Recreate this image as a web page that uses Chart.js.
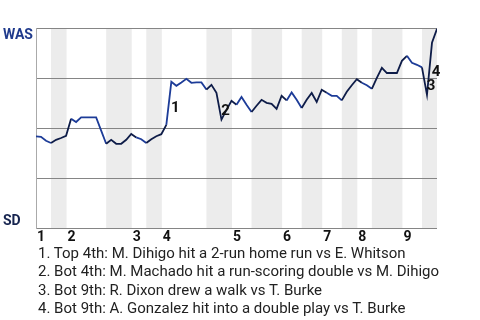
<!DOCTYPE html>
<html>
<head>
<meta charset="utf-8">
<script src="https://cdn.jsdelivr.net/npm/chart.js@4.4.0/dist/chart.umd.min.js"></script>
<style>
  html, body { margin: 0; padding: 0; background: #fff; }
  #wrap { position: relative; width: 480px; height: 320px; }
  #notes {
    position: absolute; left: 38px; top: 244px;
    font: 15px Roboto, sans-serif; line-height: 18.3px; color: #222;
    white-space: nowrap;
  }
</style>
</head>
<body>
<div id="wrap">
  <canvas id="chart" width="480" height="320"></canvas>
  <div id="notes"></div>
</div>
<script>
// win probability for WAS (0 = SD wins, 100 = WAS wins), one value per play
const winProb = [
  45.8, 45.6, 43.6, 42.5, 44.1, 45.0, 46.1, 54.6, 53.0, 55.3,
  55.3, 55.3, 55.3, 48.7, 42.1, 44.1, 42.1, 42.1, 44.1, 47.0,
  45.3, 44.4, 42.5, 44.4, 45.9, 46.9, 51.6, 73.1, 71.1, 72.8,
  74.6, 72.6, 72.8, 72.8, 69.2, 71.6, 67.6, 54.2, 59.1, 63.6,
  61.6, 65.5, 61.6, 58.0, 61.1, 64.1, 62.6, 62.1, 59.6, 66.1,
  63.8, 67.8, 64.1, 60.0, 64.1, 67.5, 63.0, 69.1, 67.6, 66.1,
  66.1, 63.8, 68.1, 71.4, 74.4, 72.6, 71.4, 69.6, 75.1, 80.1,
  77.5, 77.5, 77.5, 83.6, 86.1, 82.6, 81.6, 80.3, 66.6, 92.6,
  99.6
];
const plays = winProb.map((_, i) => i);

// half innings, in play units
const inningStarts = [0, 6.1, 19.1, 25.1, 39.1, 49.1, 57.1, 64.1, 73.1];
const inningLabels = ["1", "2", "3", "4", "5", "6", "7", "8", "9"];
const bottomHalves = [[3, 6.1], [14, 19.1], [22, 25.1], [34, 39.1], [43, 49.1], [53, 57.1], [61, 64.1], [67, 73.1], [77, 80]];

const teamTop = "WAS";
const teamBottom = "SD";

// key plays: index of the play's point
const keyPlays = [27, 37, 78, 79];
const keyNotes = [
  "Top 4th: M. Dihigo hit a 2-run home run vs E. Whitson",
  "Bot 4th: M. Machado hit a run-scoring double vs M. Dihigo",
  "Bot 9th: R. Dixon drew a walk vs T. Burke",
  "Bot 9th: A. Gonzalez hit into a double play vs T. Burke"
];

const BLUE = "#1d3c98";
const DARK = "#0e1c48";

document.getElementById("notes").innerHTML =
  keyNotes.map((t, i) => `<div>${i + 1}. ${t}</div>`).join("");

function inBottom(x) {
  return bottomHalves.some(([a, b]) => x >= a && x < b);
}

const gamePlugin = {
  id: "game",
  beforeDraw(chart) {
    const { ctx, chartArea: a, scales: { x } } = chart;
    ctx.save();
    ctx.fillStyle = "#ececec";
    bottomHalves.forEach(([s, e]) => {
      const x0 = x.getPixelForValue(s), x1 = x.getPixelForValue(e);
      ctx.fillRect(x0, a.top, x1 - x0, a.bottom - a.top);
    });
    ctx.restore();
  },
  afterDatasetsDraw(chart) {
    const { ctx, chartArea: a, scales: { x, y } } = chart;
    ctx.save();
    // team labels
    ctx.textBaseline = "alphabetic";
    ctx.textAlign = "left";
    ctx.font = "bold 14px Roboto, sans-serif";
    ctx.fillStyle = "#1f3a8c";
    ctx.fillText(teamTop, 3, a.top + 11);
    ctx.fillStyle = "#16244f";
    ctx.fillText(teamBottom, 3, a.bottom - 3);
    // inning numbers
    ctx.fillStyle = "#111";
    ctx.font = "bold 14px Roboto, sans-serif";
    inningStarts.forEach((s, i) => {
      ctx.fillText(inningLabels[i], x.getPixelForValue(s) + 1, a.bottom + 13);
    });
    // key play markers
    ctx.font = "bold 15px Roboto, sans-serif";
    ctx.textAlign = "center";
    ctx.textBaseline = "middle";
    keyPlays.forEach((k, i) => {
      const mx = (x.getPixelForValue(k - 1) + x.getPixelForValue(k)) / 2;
      const my = (y.getPixelForValue(winProb[k - 1]) + y.getPixelForValue(winProb[k])) / 2;
      ctx.fillText(String(i + 1), mx + 6.5, my + (i === 3 ? 3 : 5));
    });
    ctx.restore();
  }
};

const ctx = document.getElementById("chart").getContext("2d");
new Chart(ctx, {
  type: "line",
  data: {
    labels: plays,
    datasets: [{
      data: winProb.map((v, i) => ({ x: plays[i], y: v })),
      borderColor: BLUE,
      borderWidth: 1.8,
      pointRadius: 0,
      tension: 0,
      segment: { borderColor: c => inBottom(c.p0.parsed.x) ? DARK : BLUE }
    }]
  },
  options: {
    responsive: false,
    animation: false,
    layout: { padding: { left: 36, right: 43, top: 28, bottom: 92 } },
    plugins: { legend: { display: false }, tooltip: { enabled: false } },
    scales: {
      x: { type: "linear", min: 0, max: 80, display: false },
      y: {
        min: 0, max: 100,
        ticks: { display: false, stepSize: 25 },
        grid: { color: "#858585", drawTicks: false, lineWidth: 1 },
        border: { color: "#aaa", width: 1 }
      }
    }
  },
  plugins: [gamePlugin]
});
</script>
</body>
</html>
